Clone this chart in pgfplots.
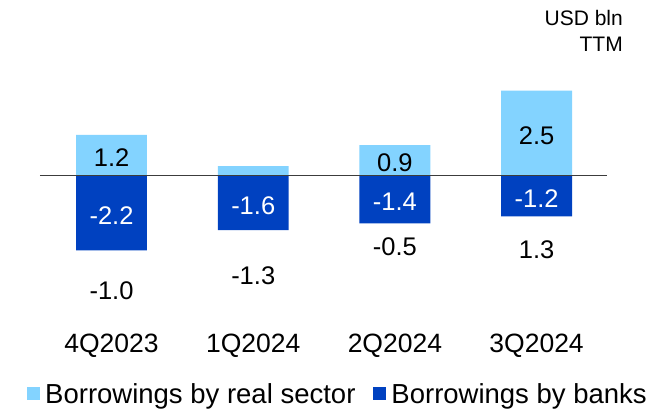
\documentclass[border=0pt]{standalone}
\usepackage{fontspec}
\setmainfont{Liberation Sans}
\usepackage{pgfplots}
\pgfplotsset{compat=1.18}
\definecolor{realc}{RGB}{131,211,255}
\definecolor{bankc}{RGB}{0,65,192}
\definecolor{zline}{RGB}{60,60,60}
\newcommand{\bigf}{\fontsize{25.5}{30}\selectfont}
\newcommand{\catf}{\fontsize{26.5}{31}\selectfont}
\newcommand{\legf}{\fontsize{27.5}{32}\selectfont}
\begin{document}
\begin{tikzpicture}
\useasboundingbox (0,0) rectangle (659pt,409pt);
\begin{axis}[
  at={(40pt,97.3pt)}, anchor=south west,
  scale only axis, width=567pt, height=238pt,
  xmin=-0.505, xmax=3.497, ymin=-4, ymax=3,
  clip=false,
  axis x line=bottom, axis line style={draw=none}, hide y axis,
  major tick length=0pt,
  xtick={0,1,2,3}, xticklabels={4Q2023,1Q2024,2Q2024,3Q2024},
  xticklabel style={font=\catf, anchor=center, yshift=-34.5pt},
  legend columns=2,
  legend style={at={(axis description cs:-0.0229,-0.345)}, anchor=west,
    draw=none, fill=none, font=\legf, inner sep=0pt,
    /tikz/every even column/.append style={column sep=13pt},
    nodes={inner ysep=0pt, inner xsep=5pt}},
]
\addplot[ybar, bar width=0.5, bar shift=0pt, fill=realc, draw=none,
  legend image code/.code={\fill[realc] (0pt,-6.5pt) rectangle (13pt,6.5pt);}]
  coordinates {(0,1.2) (1,0.28) (2,0.9) (3,2.5)};
\addlegendentry{Borrowings by real sector}
\addplot[ybar, bar width=0.5, bar shift=0pt, fill=bankc, draw=none,
  legend image code/.code={\fill[bankc] (0pt,-6.5pt) rectangle (13pt,6.5pt);}]
  coordinates {(0,-2.2) (1,-1.6) (2,-1.4) (3,-1.2)};
\addlegendentry{Borrowings by banks}
% labels in light bars
\addplot[draw=none, mark=none, forget plot, nodes near coords, point meta=explicit symbolic,
  nodes near coords style={anchor=center, font=\bigf, text=black, yshift=-2.5pt}]
  coordinates {(0,0.6) [1.2] (2,0.45) [0.9] (3,1.25) [2.5]};
% labels in dark bars
\addplot[draw=none, mark=none, forget plot, nodes near coords, point meta=explicit symbolic,
  nodes near coords style={anchor=center, font=\bigf, text=white, yshift=-2.5pt}]
  coordinates {(0,-1.1) [-2.2] (1,-0.8) [-1.6] (2,-0.7) [-1.4] (3,-0.6) [-1.2]};
% totals
\addplot[draw=none, mark=none, forget plot, nodes near coords, point meta=explicit symbolic,
  nodes near coords style={anchor=center, font=\bigf, text=black}]
  coordinates {(0,-3.39) [-1.0] (1,-2.93) [-1.3] (2,-2.09) [-0.5] (3,-2.19) [1.3]};
% zero line
\addplot[forget plot, color=zline, line width=1.2pt] coordinates {(-0.505,0) (3.497,0)};
\end{axis}
\node[anchor=east, inner sep=0pt, font=\fontsize{21}{25}\selectfont] at (623pt,391pt) {USD bln};
\node[anchor=east, inner sep=0pt, font=\fontsize{21}{25}\selectfont] at (623pt,365pt) {TTM};
\end{tikzpicture}
\end{document}
